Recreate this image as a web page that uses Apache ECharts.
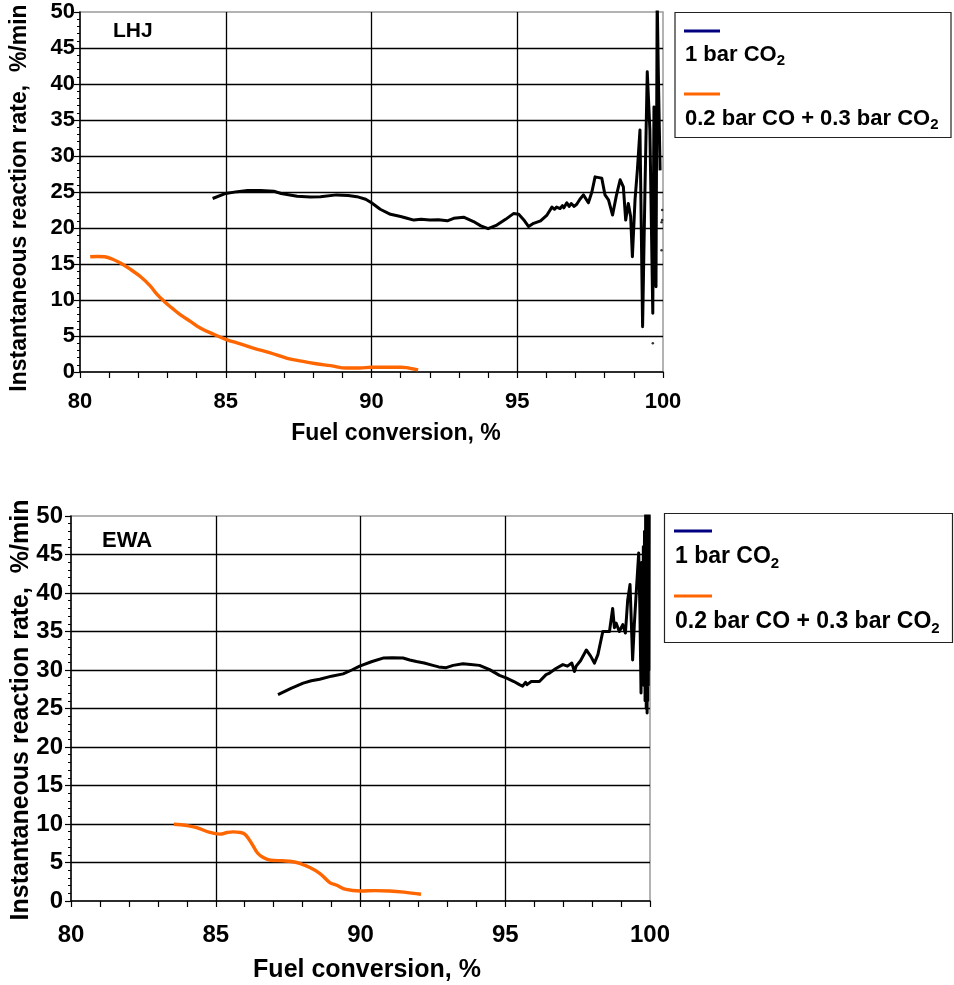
<!DOCTYPE html>
<html>
<head>
<meta charset="utf-8">
<script src="https://cdn.jsdelivr.net/npm/echarts@6/dist/echarts.min.js"></script>
<style>
  html, body { margin: 0; padding: 0; background: #fff; }
  #chart { width: 954px; height: 985px; }
</style>
</head>
<body>
<div id="chart"></div>
<script>
// Axis ranges and tick spacing
const xRange = [80, 100];
const xStep = 5;
const yRange = [0, 50];
const yStep = 5;

// Panel labels and series names
const panelNames = ['LHJ', 'EWA'];
const seriesNames = ['1 bar CO2', '0.2 bar CO + 0.3 bar CO2'];

// LHJ, 1 bar CO2
const lhjCo2X = [84.55, 85.0, 85.4, 85.75, 86.2, 86.65, 86.9, 87.45, 87.9, 88.25, 88.8, 89.2, 89.5, 89.8, 90.0,
  90.3, 90.65, 91.0, 91.22, 91.45, 91.7, 92.0, 92.3, 92.6, 92.82, 93.16, 93.5, 93.75, 94.0, 94.3,
  94.6, 94.87, 95.05, 95.25, 95.39, 95.56, 95.8, 96.02, 96.19, 96.28, 96.35, 96.47, 96.55, 96.6, 96.7,
  96.78, 96.85, 96.95, 97.04, 97.15, 97.27, 97.44, 97.56, 97.67, 97.8, 97.9, 98.01, 98.13, 98.27, 98.4,
  98.53, 98.64, 98.72, 98.81, 98.89, 98.95, 99.04, 99.12, 99.21, 99.3, 99.38, 99.46, 99.55, 99.65, 99.69,
  99.76, 99.8, 99.84, 99.9];
const lhjCo2Y = [24.1, 24.8, 25.05, 25.2, 25.2, 25.1, 24.8, 24.4, 24.3, 24.35, 24.6, 24.5, 24.35, 24.0, 23.5,
  22.6, 21.9, 21.6, 21.35, 21.1, 21.2, 21.1, 21.15, 21.0, 21.35, 21.5, 20.9, 20.3, 19.9, 20.4,
  21.2, 22.0, 21.9, 21.0, 20.2, 20.65, 21.0, 21.8, 22.9, 22.6, 22.9, 22.7, 23.1, 22.8, 23.5,
  23.0, 23.4, 23.0, 23.3, 24.0, 24.6, 23.5, 25.0, 27.1, 27.0, 26.9, 24.6, 23.9, 21.8, 24.5,
  26.7, 25.7, 21.1, 23.4, 21.6, 16.0, 23.9, 28.0, 33.6, 6.3, 25.0, 41.7, 33.6, 8.15, 36.8,
  11.85, 52.0, 41.5, 28.0];
// scattered single readings near full conversion
const lhjDotsX = [99.97, 99.97, 99.95, 99.95, 99.65];
const lhjDotsY = [22.5, 21.1, 20.8, 16.9, 4.0];

// LHJ, 0.2 bar CO + 0.3 bar CO2
const lhjMixX = [80.35, 80.6, 80.85, 81.1, 81.4, 81.75, 82.09, 82.4, 82.66, 82.89, 83.15, 83.46, 83.8, 84.14,
  84.55, 85.0, 85.5, 85.97, 86.5, 87.11, 87.6, 88.1, 88.6, 89.15, 89.6, 90.0, 90.5, 91.0, 91.2, 91.4, 91.6];
const lhjMixY = [16.0, 16.05, 16.0, 15.7, 15.1, 14.2, 13.2, 12.0, 10.7, 9.8, 8.9, 7.9, 7.0, 6.07,
  5.3, 4.54, 3.9, 3.29, 2.7, 1.9, 1.5, 1.15, 0.88, 0.55, 0.55, 0.65, 0.65, 0.65, 0.6, 0.45, 0.3];

// EWA, 1 bar CO2
const ewaCo2X = [87.15, 87.6, 88.02, 88.3, 88.59, 89.0, 89.4, 89.7, 89.97, 90.4, 90.78, 91.1, 91.47, 91.7,
  91.93, 92.2, 92.5, 92.7, 92.96, 93.2, 93.54, 93.8, 94.11, 94.46, 94.8, 95.03, 95.3, 95.49, 95.6,
  95.7, 95.75, 95.9, 96.07, 96.18, 96.41, 96.53, 96.75, 96.99, 97.15, 97.3, 97.39, 97.45, 97.6, 97.8, 97.95,
  98.08, 98.2, 98.37, 98.6, 98.71, 98.77, 98.83, 98.94, 99.06, 99.15, 99.23, 99.31, 99.4, 99.46, 99.52,
  99.61, 99.65, 99.69, 99.72, 99.75, 99.77, 99.79, 99.81, 99.83, 99.85, 99.87, 99.88, 99.9, 99.91,
  99.92, 99.93, 99.94, 99.95, 99.96, 99.97];
const ewaCo2Y = [26.8, 27.6, 28.3, 28.6, 28.8, 29.2, 29.5, 30.0, 30.5, 31.1, 31.55, 31.6, 31.55, 31.3,
  31.1, 30.9, 30.6, 30.4, 30.3, 30.6, 30.8, 30.7, 30.6, 30.05, 29.3, 28.97, 28.5, 28.1, 27.9,
  28.4, 28.1, 28.5, 28.5, 28.5, 29.4, 29.6, 30.2, 30.7, 30.5, 30.9, 29.8, 30.5, 31.2, 32.6, 31.8,
  30.9, 32.0, 35.0, 35.0, 38.0, 35.5, 36.1, 35.0, 35.9, 34.8, 39.1, 41.1, 31.3, 36.0, 39.8,
  45.2, 38.0, 27.0, 44.0, 30.0, 46.0, 28.0, 48.0, 26.0, 51.0, 25.0, 51.0, 24.4, 51.0,
  26.0, 51.0, 28.0, 51.0, 30.0, 51.0];

// EWA, 0.2 bar CO + 0.3 bar CO2
const ewaMixX = [83.55, 84.0, 84.34, 84.8, 85.14, 85.4, 85.6, 85.85, 86.0, 86.15, 86.29, 86.45, 86.64, 86.9,
  87.32, 87.67, 87.9, 88.25, 88.59, 88.94, 89.16, 89.5, 90.0, 90.5, 91.0, 91.5, 92.09];
const ewaMixY = [9.97, 9.8, 9.54, 8.9, 8.68, 8.9, 8.98, 8.9, 8.68, 8.0, 7.17, 6.2, 5.65, 5.3,
  5.22, 5.1, 4.9, 4.36, 3.6, 2.4, 2.08, 1.5, 1.3, 1.35, 1.3, 1.15, 0.87];

const zip = (xs, ys) => xs.map((x, i) => [x, ys[i]]);

const FONT = '"Liberation Sans", Arial, Helvetica, sans-serif';
const BLACK_LINE = '#000000';
const ORANGE = '#FF6600';
const NAVY = '#000080';

// Per-panel layout
const panels = [
  { grid: { left: 80, top: 12, width: 583, height: 360 }, tickFont: 22, xMargin: 19, yMargin: 5,
    xName: { x: 396, y: 434, size: 23 }, yName: { x: 20, y: 198, size: 23 },
    tag: { x: 113, y: 31, size: 21 },
    legend: { x: 675, y: 12.5, w: 276, h: 125, lx: 684, lw: 36, l1: 31, t1: 55, l2: 94, t2: 119, size: 22 } },
  { grid: { left: 71, top: 516, width: 579, height: 385 }, tickFont: 24, xMargin: 22, yMargin: 8,
    xName: { x: 367, y: 970, size: 25 }, yName: { x: 21, y: 710, size: 25 },
    tag: { x: 102, y: 541, size: 22 },
    legend: { x: 664.5, y: 513.5, w: 288, h: 129, lx: 674, lw: 38, l1: 531, t1: 557, l2: 596, t2: 622, size: 23 } }
];

function xAxisFor(i) {
  const p = panels[i];
  return {
    type: 'value', gridIndex: i, min: xRange[0], max: xRange[1], interval: xStep,
    axisLine: { show: true, onZero: false, lineStyle: { color: '#000', width: 1.5 } },
    axisTick: { show: true, length: 6, lineStyle: { color: '#000', width: 1.2 } },
    minorTick: { show: true, splitNumber: 5, length: 6, lineStyle: { color: '#000', width: 1.2 } },
    axisLabel: { color: '#000', fontFamily: FONT, fontWeight: 'bold', fontSize: p.tickFont, margin: p.xMargin },
    splitLine: { show: true, showMinLine: false, showMaxLine: false, lineStyle: { color: '#000', width: 1.3 } }
  };
}

function yAxisFor(i) {
  const p = panels[i];
  return {
    type: 'value', gridIndex: i, min: yRange[0], max: yRange[1], interval: yStep,
    axisLine: { show: true, onZero: false, lineStyle: { color: '#000', width: 1.5 } },
    axisTick: { show: true, length: 6, lineStyle: { color: '#000', width: 1.2 } },
    minorTick: { show: true, splitNumber: 5, length: 3, lineStyle: { color: '#000', width: 1 } },
    axisLabel: { color: '#000', fontFamily: FONT, fontWeight: 'bold', fontSize: p.tickFont, margin: p.yMargin },
    splitLine: { show: true, showMinLine: false, showMaxLine: false, lineStyle: { color: '#000', width: 1.3 } }
  };
}

function lineSeries(i, name, data, color, width, smooth) {
  return {
    name, type: 'line', xAxisIndex: i, yAxisIndex: i, data,
    showSymbol: false, smooth, clip: true, animation: false,
    lineStyle: { color, width, join: 'round' }, z: 3
  };
}

function boldText(x, y, text, size, extra) {
  return Object.assign({
    type: 'text', x, y, silent: true,
    style: { text, fontFamily: FONT, fontWeight: 'bold', fontSize: size, fill: '#000',
      align: 'center', verticalAlign: 'middle' }
  }, extra || {});
}

// text with the CO2 subscript
function formulaText(x, y, prefix, size) {
  return {
    type: 'text', x, y, silent: true,
    style: {
      text: '{b|' + prefix + '}{s|2}',
      align: 'left', verticalAlign: 'middle',
      rich: {
        b: { fontFamily: FONT, fontWeight: 'bold', fontSize: size, fill: '#000', lineHeight: size * 1.25 },
        s: { fontFamily: FONT, fontWeight: 'bold', fontSize: Math.round(size * 0.66), fill: '#000',
          verticalAlign: 'bottom', lineHeight: size * 1.25 }
      }
    }
  };
}

function panelGraphics(i) {
  const p = panels[i];
  const L = p.legend;
  return [
    boldText(p.tag.x, p.tag.y, panelNames[i], p.tag.size, { style: { text: panelNames[i], fontFamily: FONT,
      fontWeight: 'bold', fontSize: p.tag.size, fill: '#000', align: 'left', verticalAlign: 'middle' } }),
    boldText(p.xName.x, p.xName.y, 'Fuel conversion, %', p.xName.size),
    boldText(p.yName.x, p.yName.y, 'Instantaneous reaction rate,  %/min', p.yName.size, { rotation: Math.PI / 2 }),
    { type: 'rect', silent: true, shape: { x: L.x, y: L.y, width: L.w, height: L.h },
      style: { fill: '#fff', stroke: '#222', lineWidth: 1.2 } },
    { type: 'line', silent: true, shape: { x1: L.lx, y1: L.l1, x2: L.lx + L.lw, y2: L.l1 },
      style: { stroke: NAVY, lineWidth: 3 } },
    formulaText(L.lx + 1, L.t1, '1 bar CO', L.size),
    { type: 'line', silent: true, shape: { x1: L.lx, y1: L.l2, x2: L.lx + L.lw, y2: L.l2 },
      style: { stroke: ORANGE, lineWidth: 3 } },
    formulaText(L.lx + 1, L.t2, '0.2 bar CO + 0.3 bar CO', L.size)
  ];
}

const chart = echarts.init(document.getElementById('chart'), null, { renderer: 'canvas' });
chart.setOption({
  animation: false,
  backgroundColor: '#fff',
  grid: panels.map(p => Object.assign({ show: true, borderColor: '#9a9a9a', borderWidth: 1.5,
    backgroundColor: 'transparent', containLabel: false }, p.grid)),
  xAxis: [xAxisFor(0), xAxisFor(1)],
  yAxis: [yAxisFor(0), yAxisFor(1)],
  series: [
    lineSeries(0, seriesNames[0], zip(lhjCo2X, lhjCo2Y), BLACK_LINE, 3, false),
    {
      name: seriesNames[0], type: 'scatter', xAxisIndex: 0, yAxisIndex: 0,
      data: zip(lhjDotsX, lhjDotsY), symbolSize: 2.5, itemStyle: { color: '#000' }, z: 3
    },
    lineSeries(0, seriesNames[1], zip(lhjMixX, lhjMixY), ORANGE, 3.4, 0.4),
    lineSeries(1, seriesNames[0], zip(ewaCo2X, ewaCo2Y), BLACK_LINE, 3, false),
    lineSeries(1, seriesNames[1], zip(ewaMixX, ewaMixY), ORANGE, 3.4, 0.4)
  ],
  graphic: { elements: panelGraphics(0).concat(panelGraphics(1)) }
});
</script>
</body>
</html>
